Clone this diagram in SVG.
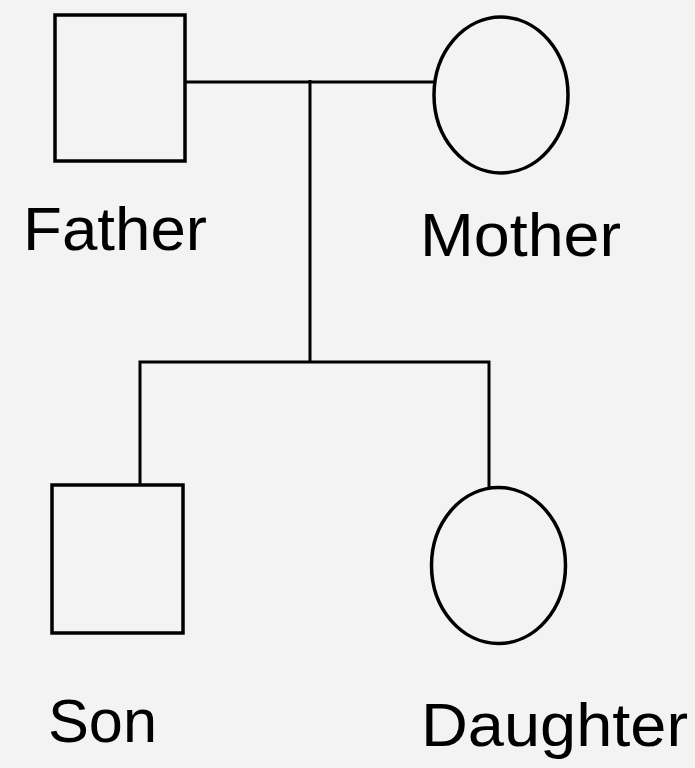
<svg xmlns="http://www.w3.org/2000/svg" width="695" height="768" viewBox="0 0 695 768">
<style>
.shape{fill:none;stroke:#000;stroke-width:3.5}
.conn{fill:none;stroke:#000;stroke-width:3}
.lbl{font-family:"Liberation Sans",Arial,sans-serif;font-size:62px;fill:#000}
</style>
<rect width="695" height="768" fill="#f3f3f3"/>
<g id="connectors">
<polyline class="conn" points="185,82 434,82"/>
<polyline class="conn" points="310,80 310,362"/>
<polyline class="conn" points="140,485 140,362 489,362 489,487"/>
</g>
<g id="father">
<rect class="shape" x="55" y="15" width="130" height="146"/>
<text class="lbl" x="23" y="250" textLength="184" lengthAdjust="spacingAndGlyphs">Father</text>
</g>
<g id="mother">
<ellipse class="shape" cx="501" cy="95" rx="67" ry="78"/>
<text class="lbl" x="420" y="256" textLength="201" lengthAdjust="spacingAndGlyphs">Mother</text>
</g>
<g id="son">
<rect class="shape" x="52" y="485" width="131" height="148"/>
<text class="lbl" x="48" y="742" textLength="109" lengthAdjust="spacingAndGlyphs">Son</text>
</g>
<g id="daughter">
<ellipse class="shape" cx="498.5" cy="565.5" rx="67" ry="78"/>
<text class="lbl" x="421" y="746" textLength="267" lengthAdjust="spacingAndGlyphs">Daughter</text>
</g>
</svg>
